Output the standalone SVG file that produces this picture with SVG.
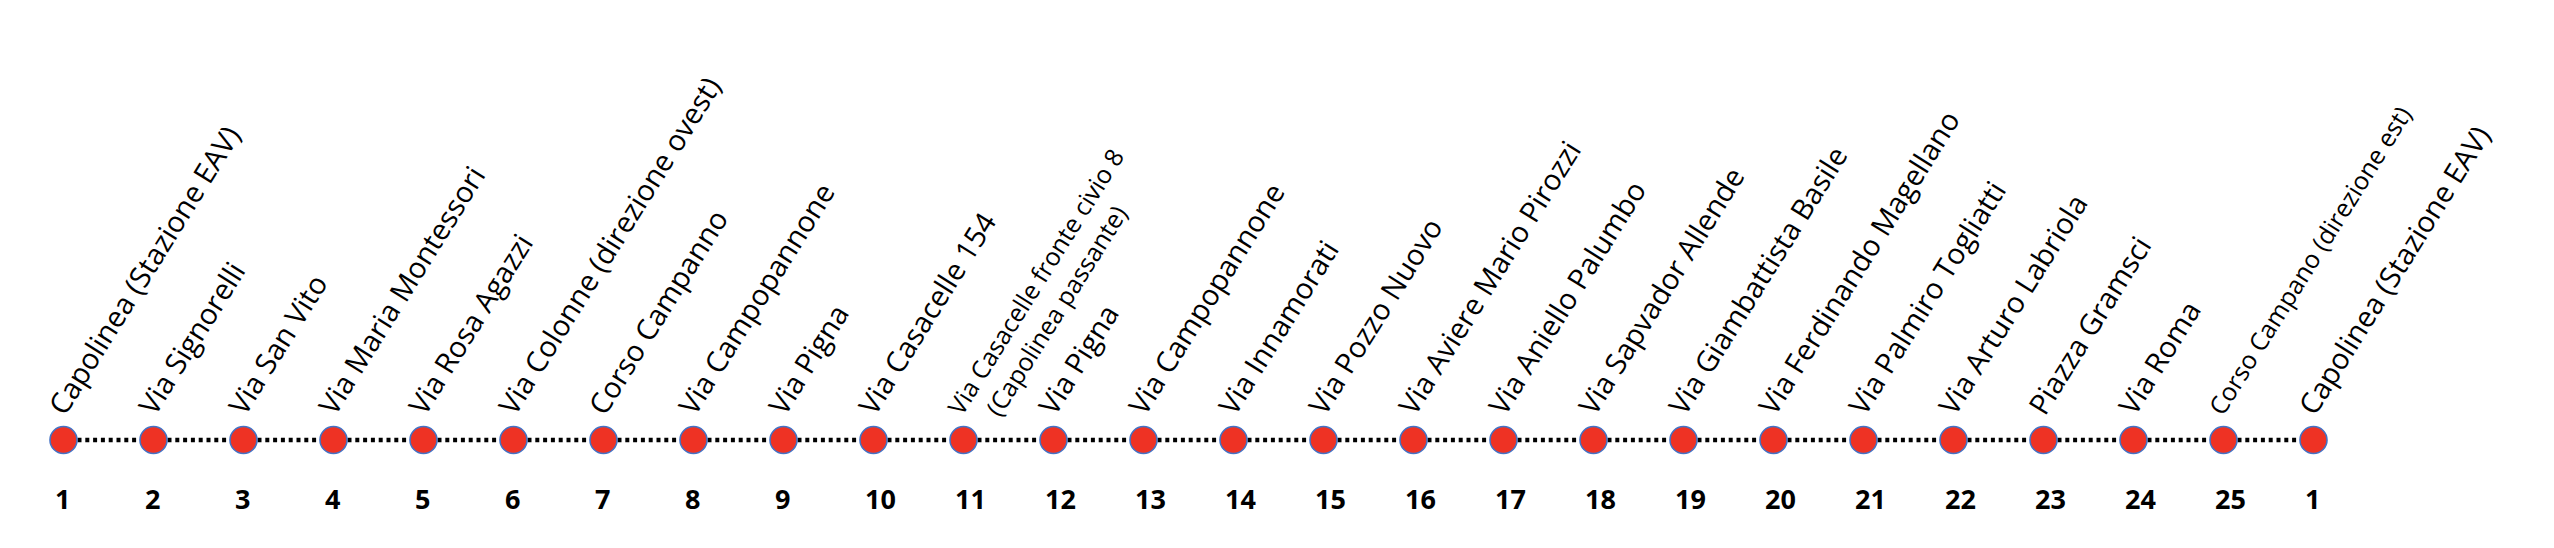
<svg xmlns="http://www.w3.org/2000/svg" width="2554" height="548" viewBox="0 0 2554 548">
<style>
.lbl{font-family:"Open Sans","Noto Sans","Liberation Sans",sans-serif;font-size:29px;fill:#000}
.sm{font-size:25px}
.num{font-family:"Open Sans","Noto Sans","Liberation Sans",sans-serif;font-size:27px;font-weight:bold;fill:#000}
.stop{fill:#EE3224;stroke:#4472C4;stroke-width:1.6}
.seg{stroke:#000;stroke-width:4.6;stroke-dasharray:4 3.8;fill:none}
</style>
<rect width="2554" height="548" fill="#fff"/>
<g id="connectors">
<line class="seg" x1="77.5" y1="440" x2="139.5" y2="440"/>
<line class="seg" x1="167.5" y1="440" x2="229.5" y2="440"/>
<line class="seg" x1="257.5" y1="440" x2="319.5" y2="440"/>
<line class="seg" x1="347.5" y1="440" x2="409.5" y2="440"/>
<line class="seg" x1="437.5" y1="440" x2="499.5" y2="440"/>
<line class="seg" x1="527.5" y1="440" x2="589.5" y2="440"/>
<line class="seg" x1="617.5" y1="440" x2="679.5" y2="440"/>
<line class="seg" x1="707.5" y1="440" x2="769.5" y2="440"/>
<line class="seg" x1="797.5" y1="440" x2="859.5" y2="440"/>
<line class="seg" x1="887.5" y1="440" x2="949.5" y2="440"/>
<line class="seg" x1="977.5" y1="440" x2="1039.5" y2="440"/>
<line class="seg" x1="1067.5" y1="440" x2="1129.5" y2="440"/>
<line class="seg" x1="1157.5" y1="440" x2="1219.5" y2="440"/>
<line class="seg" x1="1247.5" y1="440" x2="1309.5" y2="440"/>
<line class="seg" x1="1337.5" y1="440" x2="1399.5" y2="440"/>
<line class="seg" x1="1427.5" y1="440" x2="1489.5" y2="440"/>
<line class="seg" x1="1517.5" y1="440" x2="1579.5" y2="440"/>
<line class="seg" x1="1607.5" y1="440" x2="1669.5" y2="440"/>
<line class="seg" x1="1697.5" y1="440" x2="1759.5" y2="440"/>
<line class="seg" x1="1787.5" y1="440" x2="1849.5" y2="440"/>
<line class="seg" x1="1877.5" y1="440" x2="1939.5" y2="440"/>
<line class="seg" x1="1967.5" y1="440" x2="2029.5" y2="440"/>
<line class="seg" x1="2057.5" y1="440" x2="2119.5" y2="440"/>
<line class="seg" x1="2147.5" y1="440" x2="2209.5" y2="440"/>
<line class="seg" x1="2237.5" y1="440" x2="2299.5" y2="440"/>
</g>
<g id="stop1"><circle class="stop" cx="63.5" cy="440" r="13.5"/><text class="lbl" transform="translate(65 417) rotate(-58)">Capolinea (Stazione EAV)</text><text class="num" x="55" y="509">1</text></g>
<g id="stop2"><circle class="stop" cx="153.5" cy="440" r="13.5"/><text class="lbl" transform="translate(155 417) rotate(-58)">Via Signorelli</text><text class="num" x="145" y="509">2</text></g>
<g id="stop3"><circle class="stop" cx="243.5" cy="440" r="13.5"/><text class="lbl" transform="translate(245 417) rotate(-58)">Via San Vito</text><text class="num" x="235" y="509">3</text></g>
<g id="stop4"><circle class="stop" cx="333.5" cy="440" r="13.5"/><text class="lbl" transform="translate(335 417) rotate(-58)">Via Maria Montessori</text><text class="num" x="325" y="509">4</text></g>
<g id="stop5"><circle class="stop" cx="423.5" cy="440" r="13.5"/><text class="lbl" transform="translate(425 417) rotate(-58)">Via Rosa Agazzi</text><text class="num" x="415" y="509">5</text></g>
<g id="stop6"><circle class="stop" cx="513.5" cy="440" r="13.5"/><text class="lbl" transform="translate(515 417) rotate(-58)">Via Colonne (direzione ovest)</text><text class="num" x="505" y="509">6</text></g>
<g id="stop7"><circle class="stop" cx="603.5" cy="440" r="13.5"/><text class="lbl" transform="translate(605 417) rotate(-58)">Corso Campanno</text><text class="num" x="595" y="509">7</text></g>
<g id="stop8"><circle class="stop" cx="693.5" cy="440" r="13.5"/><text class="lbl" transform="translate(695 417) rotate(-58)">Via Campopannone</text><text class="num" x="685" y="509">8</text></g>
<g id="stop9"><circle class="stop" cx="783.5" cy="440" r="13.5"/><text class="lbl" transform="translate(785 417) rotate(-58)">Via Pigna</text><text class="num" x="775" y="509">9</text></g>
<g id="stop10"><circle class="stop" cx="873.5" cy="440" r="13.5"/><text class="lbl" transform="translate(875 417) rotate(-58)">Via Casacelle 154</text><text class="num" x="865" y="509">10</text></g>
<g id="stop11"><circle class="stop" cx="963.5" cy="440" r="13.5"/><text class="lbl sm" transform="translate(962 417) rotate(-58)"><tspan x="0" y="0">Via Casacelle fronte civio 8</tspan><tspan x="19" y="33">(Capolinea passante)</tspan></text><text class="num" x="955" y="509">11</text></g>
<g id="stop12"><circle class="stop" cx="1053.5" cy="440" r="13.5"/><text class="lbl" transform="translate(1055 417) rotate(-58)">Via Pigna</text><text class="num" x="1045" y="509">12</text></g>
<g id="stop13"><circle class="stop" cx="1143.5" cy="440" r="13.5"/><text class="lbl" transform="translate(1145 417) rotate(-58)">Via Campopannone</text><text class="num" x="1135" y="509">13</text></g>
<g id="stop14"><circle class="stop" cx="1233.5" cy="440" r="13.5"/><text class="lbl" transform="translate(1235 417) rotate(-58)">Via Innamorati</text><text class="num" x="1225" y="509">14</text></g>
<g id="stop15"><circle class="stop" cx="1323.5" cy="440" r="13.5"/><text class="lbl" transform="translate(1325 417) rotate(-58)">Via Pozzo Nuovo</text><text class="num" x="1315" y="509">15</text></g>
<g id="stop16"><circle class="stop" cx="1413.5" cy="440" r="13.5"/><text class="lbl" transform="translate(1415 417) rotate(-58)">Via Aviere Mario Pirozzi</text><text class="num" x="1405" y="509">16</text></g>
<g id="stop17"><circle class="stop" cx="1503.5" cy="440" r="13.5"/><text class="lbl" transform="translate(1505 417) rotate(-58)">Via Aniello Palumbo</text><text class="num" x="1495" y="509">17</text></g>
<g id="stop18"><circle class="stop" cx="1593.5" cy="440" r="13.5"/><text class="lbl" transform="translate(1595 417) rotate(-58)">Via Sapvador Allende</text><text class="num" x="1585" y="509">18</text></g>
<g id="stop19"><circle class="stop" cx="1683.5" cy="440" r="13.5"/><text class="lbl" transform="translate(1685 417) rotate(-58)">Via Giambattista Basile</text><text class="num" x="1675" y="509">19</text></g>
<g id="stop20"><circle class="stop" cx="1773.5" cy="440" r="13.5"/><text class="lbl" transform="translate(1775 417) rotate(-58)">Via Ferdinando Magellano</text><text class="num" x="1765" y="509">20</text></g>
<g id="stop21"><circle class="stop" cx="1863.5" cy="440" r="13.5"/><text class="lbl" transform="translate(1865 417) rotate(-58)">Via Palmiro Togliatti</text><text class="num" x="1855" y="509">21</text></g>
<g id="stop22"><circle class="stop" cx="1953.5" cy="440" r="13.5"/><text class="lbl" transform="translate(1955 417) rotate(-58)">Via Arturo Labriola</text><text class="num" x="1945" y="509">22</text></g>
<g id="stop23"><circle class="stop" cx="2043.5" cy="440" r="13.5"/><text class="lbl" transform="translate(2045 417) rotate(-58)">Piazza Gramsci</text><text class="num" x="2035" y="509">23</text></g>
<g id="stop24"><circle class="stop" cx="2133.5" cy="440" r="13.5"/><text class="lbl" transform="translate(2135 417) rotate(-58)">Via Roma</text><text class="num" x="2125" y="509">24</text></g>
<g id="stop25"><circle class="stop" cx="2223.5" cy="440" r="13.5"/><text class="lbl sm" transform="translate(2223 417) rotate(-58)">Corso Campano (direzione est)</text><text class="num" x="2215" y="509">25</text></g>
<g id="stop26"><circle class="stop" cx="2313.5" cy="440" r="13.5"/><text class="lbl" transform="translate(2315 417) rotate(-58)">Capolinea (Stazione EAV)</text><text class="num" x="2305" y="509">1</text></g>
</svg>
